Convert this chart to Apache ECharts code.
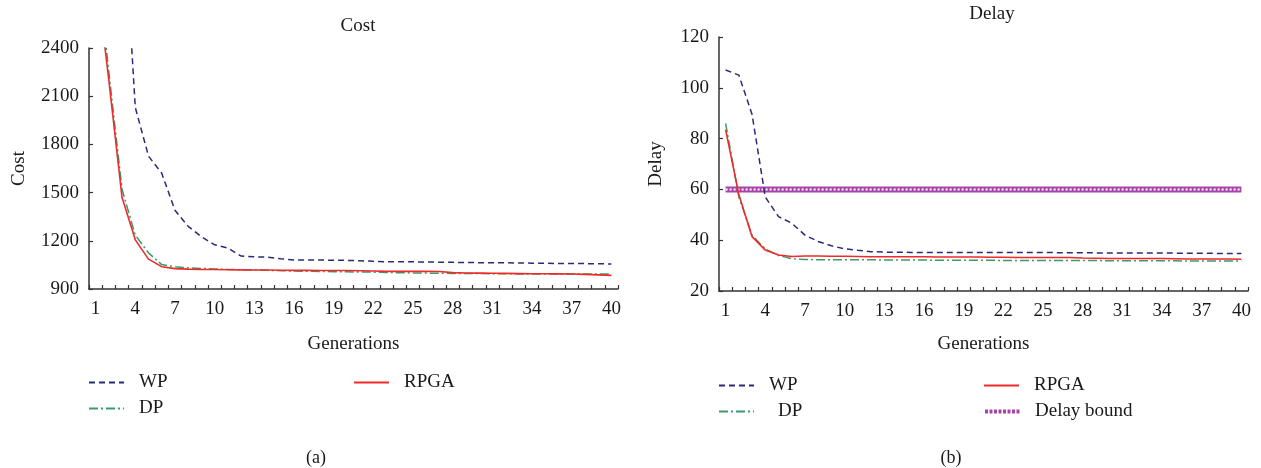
<!DOCTYPE html>
<html>
<head>
<meta charset="utf-8">
<script src="https://cdn.jsdelivr.net/npm/echarts@6/dist/echarts.min.js"></script>
<style>html,body{margin:0;padding:0;background:#fff;}#main{width:1261px;height:468px;}</style>
</head>
<body>
<div id="main"></div>
<script>
const categories = ['1','2','3','4','5','6','7','8','9','10','11','12','13','14','15','16','17','18','19','20','21','22','23','24','25','26','27','28','29','30','31','32','33','34','35','36','37','38','39','40'];

const costWP = [4500, 4000, 3400, 2030, 1727, 1620, 1390, 1290, 1225, 1175, 1155, 1105, 1100, 1098, 1088, 1081, 1080, 1080, 1079, 1078, 1076, 1072, 1070, 1070, 1069, 1068, 1067, 1066, 1065, 1064, 1064, 1063, 1062, 1061, 1060, 1059, 1058, 1058, 1057, 1056];
const costDP = [3000, 2250, 1520, 1235, 1125, 1052, 1038, 1032, 1028, 1025, 1022, 1020, 1018, 1016, 1014, 1012, 1010, 1009, 1008, 1007, 1006, 1005, 1003, 1001, 1000, 999, 998, 997, 996, 996, 995, 995, 994, 994, 994, 993, 993, 993, 993, 993];
const costRPGA = [2890, 2200, 1469, 1206, 1086, 1039, 1027, 1024, 1022, 1021, 1020, 1019, 1018, 1018, 1017, 1016, 1016, 1015, 1015, 1015, 1014, 1012, 1010, 1010, 1010, 1010, 1009, 1002, 1000, 999, 998, 997, 996, 995, 995, 994, 993, 991, 988, 985];

const delayWP = [107, 105, 89.5, 57, 49.3, 46.7, 42, 39.5, 37.8, 36.6, 36, 35.5, 35.3, 35.3, 35.2, 35.2, 35.2, 35.2, 35.2, 35.2, 35.2, 35.2, 35.2, 35.2, 35.2, 35.1, 35.1, 35.1, 35.0, 35.0, 35.0, 35.0, 35.0, 35.0, 34.9, 34.9, 34.9, 34.8, 34.8, 34.8];
const delayDP = [86, 57, 42, 36.5, 34, 32.7, 32.4, 32.3, 32.3, 32.3, 32.3, 32.3, 32.2, 32.2, 32.2, 32.2, 32.1, 32.1, 32.1, 32.1, 32.1, 32.0, 32.0, 32.0, 32.0, 32.0, 32.0, 32.0, 32.0, 31.9, 31.9, 31.9, 31.9, 31.9, 31.9, 31.8, 31.8, 31.8, 31.8, 31.8];
const delayRPGA = [83.5, 58, 41.4, 36.1, 34.2, 33.6, 33.8, 33.8, 33.7, 33.7, 33.6, 33.5, 33.5, 33.5, 33.5, 33.5, 33.4, 33.4, 33.4, 33.4, 33.3, 33.3, 33.2, 33.2, 33.2, 33.2, 33.2, 33.0, 32.9, 32.8, 32.8, 32.8, 32.8, 32.8, 32.7, 32.6, 32.6, 32.6, 32.6, 32.5];
const delayBound = [60, 60, 60, 60, 60, 60, 60, 60, 60, 60, 60, 60, 60, 60, 60, 60, 60, 60, 60, 60, 60, 60, 60, 60, 60, 60, 60, 60, 60, 60, 60, 60, 60, 60, 60, 60, 60, 60, 60, 60];

const costTicks = {min: 900, max: 2400, interval: 300};
const delayTicks = {min: 20, max: 120, interval: 20};

const FONT = '"Liberation Serif", "DejaVu Serif", serif';
const TXT = '#1a1a1a';
const AX = '#333';
const C_WP = '#2a2a78';
const C_DP = '#3a9b6b';
const C_RPGA = '#ee2a2a';
const C_BOUND = '#a844a8';

function xAxis(gi) {
  return {
    type: 'category', gridIndex: gi, data: categories, boundaryGap: true,
    name: 'Generations', nameLocation: 'middle', nameGap: gi === 0 ? 46 : 44,
    nameTextStyle: {fontFamily: FONT, fontSize: 19, color: TXT},
    axisLine: {lineStyle: {color: AX, width: 1.5}},
    axisTick: {show: true, inside: true, length: 4, interval: 0, alignWithLabel: false, lineStyle: {color: AX, width: 1.2}},
    axisLabel: {interval: 2, fontFamily: FONT, fontSize: 19, color: TXT, margin: 11},
    splitLine: {show: false}
  };
}
function yAxis(gi, t, name, gap) {
  return {
    type: 'value', gridIndex: gi, min: t.min, max: t.max, interval: t.interval,
    name: name, nameLocation: 'middle', nameGap: gap, nameRotate: 90,
    nameTextStyle: {fontFamily: FONT, fontSize: 19, color: TXT},
    axisLine: {show: true, lineStyle: {color: AX, width: 1.5}},
    axisTick: {show: true, inside: true, length: 4, lineStyle: {color: AX, width: 1.2}},
    axisLabel: {fontFamily: FONT, fontSize: 19, color: TXT, margin: 10, formatter: function (v) { return String(v); }},
    splitLine: {show: false}
  };
}
function line(name, data, gi, color, type, width, z) {
  return {
    name: name, type: 'line', xAxisIndex: gi, yAxisIndex: gi, data: data,
    symbol: 'none', showSymbol: false, clip: true, z: z || 2,
    lineStyle: {color: color, width: width || 1.5, type: type},
    itemStyle: {color: color}, emphasis: {disabled: true}
  };
}
function legendAt(item, left, top, pad) {
  return {
    data: [item], left: left, top: top, padding: 0, orient: 'horizontal',
    itemWidth: 35, itemHeight: 14, itemGap: 0, selectedMode: false,
    itemStyle: {opacity: 0},
    textStyle: {fontFamily: FONT, fontSize: 19, color: TXT, padding: [0, 0, 0, pad]}
  };
}

const dashWP = [6, 4];
const dashDP = [9, 3, 2, 3];

const chart = echarts.init(document.getElementById('main'), null, {renderer: 'canvas'});
chart.setOption({
  animation: false,
  backgroundColor: '#fff',
  title: [
    {text: 'Cost', left: 353, top: 12, textAlign: 'center', textStyle: {fontFamily: FONT, fontSize: 19, fontWeight: 'normal', color: TXT}},
    {text: 'Delay', left: 987, top: 0, textAlign: 'center', textStyle: {fontFamily: FONT, fontSize: 19, fontWeight: 'normal', color: TXT}},
    {text: '(a)', left: 311, top: 444, textAlign: 'center', textStyle: {fontFamily: FONT, fontSize: 18, fontWeight: 'normal', color: TXT}},
    {text: '(b)', left: 946, top: 444, textAlign: 'center', textStyle: {fontFamily: FONT, fontSize: 18, fontWeight: 'normal', color: TXT}}
  ],
  legend: [
    legendAt('WP', 88, 373, 10),
    legendAt('DP', 88, 399, 10),
    legendAt('RPGA', 353, 373, 10),
    legendAt('WP', 718, 376, 10),
    legendAt('DP', 718, 402, 19),
    legendAt('RPGA', 983, 376, 10),
    legendAt({name: 'Delay bound', lineStyle: {color: C_BOUND, width: 4, type: [3, 1.5]}}, 983, 402, 10)
  ],
  grid: [
    {left: 89, width: 529, top: 48, height: 241, containLabel: false},
    {left: 719, width: 529, top: 37, height: 254, containLabel: false}
  ],
  xAxis: [xAxis(0), xAxis(1)],
  yAxis: [yAxis(0, costTicks, 'Cost', 60), yAxis(1, delayTicks, 'Delay', 53)],
  series: [
    line('WP', costWP, 0, C_WP, dashWP, 1.5),
    line('DP', costDP, 0, C_DP, dashDP, 1.5),
    line('RPGA', costRPGA, 0, C_RPGA, 'solid', 1.6, 3),
    line('Delay bound', delayBound, 1, C_BOUND, 'solid', 6, 1),
    Object.assign(line('Delay bound', delayBound, 1, '#ffffff', [2, 2], 2, 1), {legendHoverLink: false}),
    line('WP', delayWP, 1, C_WP, dashWP, 1.5),
    line('DP', delayDP, 1, C_DP, dashDP, 1.5),
    line('RPGA', delayRPGA, 1, C_RPGA, 'solid', 1.6, 3)
  ]
});
</script>
</body>
</html>
